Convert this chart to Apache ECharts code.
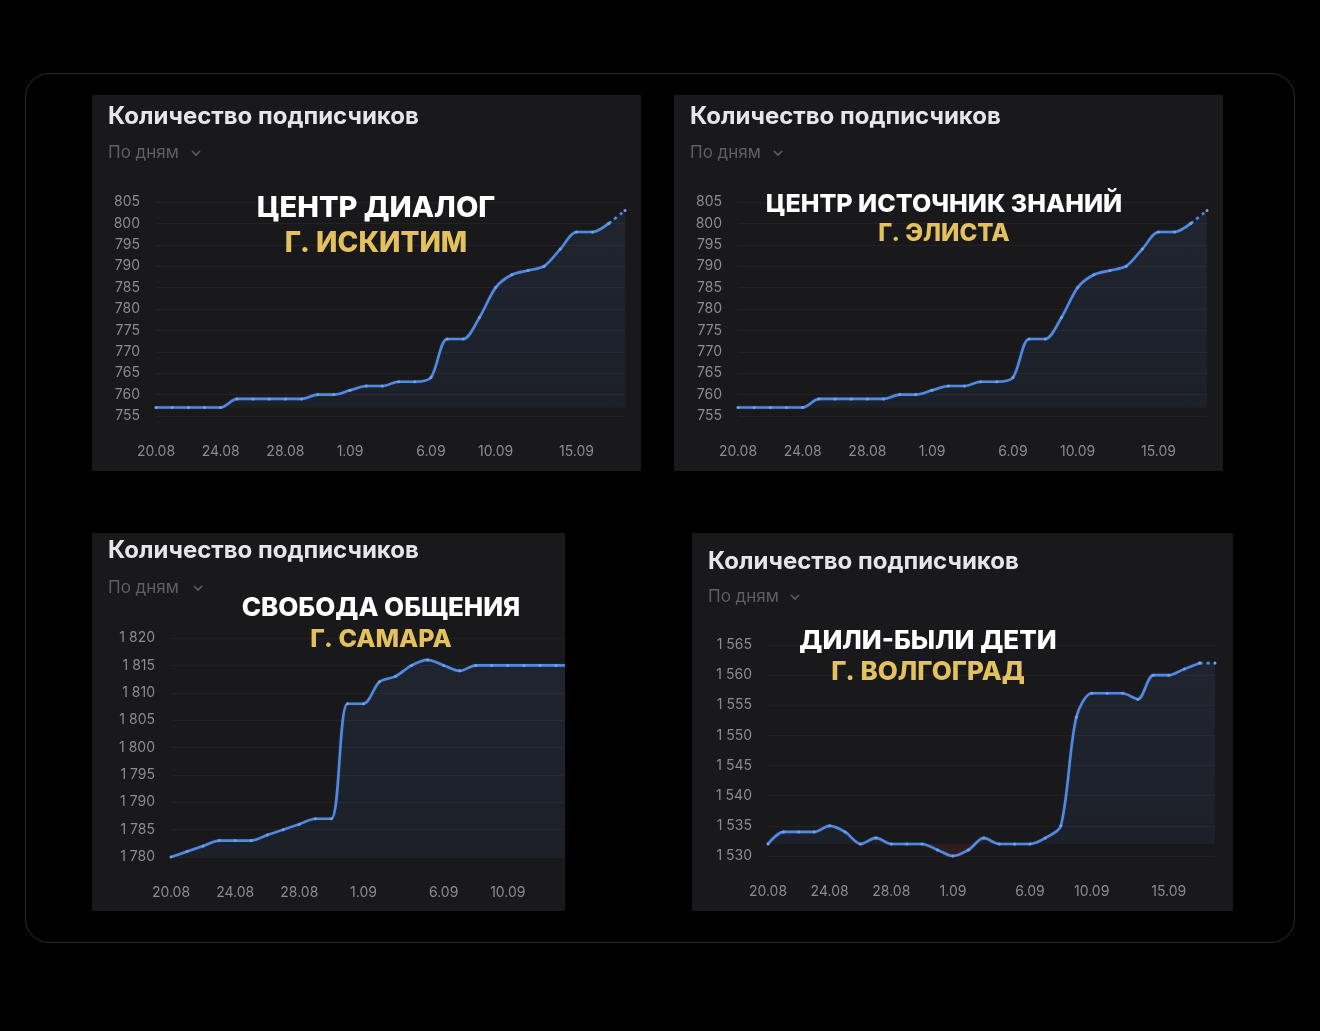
<!DOCTYPE html>
<html><head><meta charset="utf-8">
<script src="https://cdn.jsdelivr.net/npm/echarts@6/dist/echarts.min.js"></script>
<style>
html,body{margin:0;padding:0;background:#000;width:1320px;height:1031px;overflow:hidden}
#frame{position:absolute;left:25px;top:73px;width:1268px;height:868px;border:1px solid #2b2b2d;border-radius:24px}
.panel{position:absolute;background:#19191b;overflow:hidden}
.chart{position:absolute;left:0;top:0}
</style></head><body>
<div id="frame"></div>
<div class="panel" style="left:92px;top:95px;width:549px;height:376px"><div id="c1" class="chart" style="width:549px;height:376px"></div></div>
<div class="panel" style="left:674px;top:95px;width:549px;height:376px"><div id="c2" class="chart" style="width:549px;height:376px"></div></div>
<div class="panel" style="left:92px;top:533px;width:473px;height:378px"><div id="c3" class="chart" style="width:560px;height:378px"></div></div>
<div class="panel" style="left:692px;top:533px;width:541px;height:378px"><div id="c4" class="chart" style="width:541px;height:378px"></div></div>
<script>
// ---- data ----
const dates = ['20.08','21.08','22.08','23.08','24.08','25.08','26.08','27.08','28.08','29.08','30.08','31.08',
  '1.09','2.09','3.09','4.09','5.09','6.09','7.09','8.09','9.09','10.09','11.09','12.09','13.09','14.09','15.09','16.09','17.09','18.09'];
const xTickLabels = ['20.08','24.08','28.08','1.09','6.09','10.09','15.09'];
const panelTitle = 'Количество подписчиков';
const periodLabel = 'По дням';

const iskitimValues = [757,757,757,757,757,759,759,759,759,759,760,760,761,762,762,763,763,764,773,773,778,785,788,789,790,794,798,798,800,803];
const elistaValues  = [757,757,757,757,757,759,759,759,759,759,760,760,761,762,762,763,763,764,773,773,778,785,788,789,790,794,798,798,800,803];
const samaraValues  = [1780,1781,1782,1783,1783,1783,1784,1785,1786,1787,1787,1808,1808,1812,1813,1815,1816,1815,1814,1815,1815,1815,1815,1815,1815,1815];
const volgogradValues = [1532,1534,1534,1534,1535,1534,1532,1533,1532,1532,1532,1531,1530,1531,1533,1532,1532,1532,1533,1535,1553,1557,1557,1557,1556,1560,1560,1561,1562,1562];

const FONT = "Inter, 'Noto Sans', sans-serif";

function fmtNum(v){ return String(v).replace(/\B(?=(\d{3})+(?!\d))/g,' '); }

function build(id, cfg){
  const el = document.getElementById(id);
  const chart = echarts.init(el, null, {renderer:'canvas'});
  const vals = cfg.values;
  const n = vals.length;
  const cats = dates.slice(0, n);
  const base = vals[0];
  const solid = cfg.dashedLast ? vals.map((v,i)=> i<=n-2 ? v : '-') : vals.slice();
  const dashed = cfg.dashedLast ? vals.map((v,i)=> i>=n-2 ? v : '-') : null;
  const lineColor = '#5289da';
  const mkSeries = (data, dash) => ({
    type:'line', data:data, smooth:0.3, connectNulls:false,
    symbol:'circle', symbolSize:3, showSymbol:true,
    itemStyle:{color:'#74a2e6'},
    lineStyle:{color:lineColor, width:2.6, type: dash ? [3,4] : 'solid',
      shadowColor:'rgba(30,70,150,0.6)', shadowBlur:2},
    areaStyle:{origin:base, color:'rgba(70,110,180,0.15)'},
    z: 3
  });
  const series = [mkSeries(solid,false)];
  if (dashed) series.push(mkSeries(dashed,true));
  const chevX = cfg.chev[0], chevY = cfg.periodY;
  const option = {
    animation:false,
    backgroundColor:'transparent',
    grid:{left:cfg.grid[0], top:cfg.grid[1], right:cfg.grid[2], bottom:cfg.grid[3]},
    xAxis:{type:'category', data:cats, boundaryGap:false,
      axisLine:{show:false}, axisTick:{show:false}, splitLine:{show:false},
      axisLabel:{interval:(i,v)=> xTickLabels.indexOf(v) >= 0, color:'#8b8b90', fontSize:14, margin:29, fontFamily:FONT}},
    yAxis:{type:'value', min:cfg.min, max:cfg.max, interval:5,
      axisLine:{show:false}, axisTick:{show:false},
      axisLabel:{color:'#8b8b90', fontSize:14, margin:16, fontFamily:FONT, formatter:fmtNum},
      splitLine:{lineStyle:{color:'rgba(255,255,255,0.045)', width:1}}},
    series:series,
    graphic:[
      {type:'text', x:16, y:cfg.titleY, z:10, style:{text:panelTitle, fill:'#e6e6e8', font:'700 24px '+FONT, textAlign:'left', textVerticalAlign:'middle'}},
      {type:'text', x:16, y:cfg.periodY, z:10, style:{text:periodLabel, fill:'#5e5e63', font:'400 17px '+FONT, textAlign:'left', textVerticalAlign:'middle'}},
      {type:'polyline', z:10, shape:{points:[[chevX-4,chevY-2],[chevX,chevY+2],[chevX+4,chevY-2]]}, style:{stroke:'#5e5e63', lineWidth:1.6, fill:null}},
      {type:'text', x:cfg.overlayX, y:cfg.overlayY[0], z:20, style:{text:cfg.name, fill:'#ffffff', font:'800 '+cfg.overlaySize[0]+'px '+FONT, textAlign:'center', textVerticalAlign:'middle'}},
      {type:'text', x:cfg.overlayX, y:cfg.overlayY[1], z:20, style:{text:cfg.city, fill:'#e3c15f', font:'800 '+cfg.overlaySize[1]+'px '+FONT, textAlign:'center', textVerticalAlign:'middle'}}
    ]
  };
  chart.setOption(option);
  // two-tone area: blue above the starting value, red below it
  const yBase = chart.convertToPixel({yAxisIndex:0}, base);
  const H = chart.getHeight();
  const off = Math.min(1, Math.max(0, yBase / H));
  const grad = new echarts.graphic.LinearGradient(0, 0, 0, H, [
    {offset:0, color:'rgba(80,125,200,0.20)'},
    {offset:off, color:'rgba(70,110,180,0.13)'},
    {offset:off, color:'rgba(200,55,75,0.18)'},
    {offset:1, color:'rgba(200,55,75,0.18)'}
  ], true);
  chart.setOption({series: series.map(()=>({areaStyle:{origin:base, color:grad}}))});
  return chart;
}

build('c1', {values:iskitimValues, dashedLast:true, min:755, max:805, grid:[64,107,16,55],
  titleY:22, periodY:58, chev:[104], name:'ЦЕНТР ДИАЛОГ', city:'Г. ИСКИТИМ', overlayX:284, overlayY:[113,149], overlaySize:[29,28]});
build('c2', {values:elistaValues, dashedLast:true, min:755, max:805, grid:[64,107,16,55],
  titleY:22, periodY:58, chev:[104], name:'ЦЕНТР ИСТОЧНИК ЗНАНИЙ', city:'Г. ЭЛИСТА', overlayX:270, overlayY:[109,139], overlaySize:[25,24]});
build('c3', {values:samaraValues, dashedLast:false, min:1780, max:1820, grid:[79,105,80,54],
  titleY:18, periodY:55, chev:[106], name:'СВОБОДА ОБЩЕНИЯ', city:'Г. САМАРА', overlayX:289, overlayY:[75,106], overlaySize:[26,25]});
build('c4', {values:volgogradValues, dashedLast:true, min:1530, max:1565, grid:[76,112,18,55],
  titleY:29, periodY:64, chev:[103], name:'ДИЛИ-БЫЛИ ДЕТИ', city:'Г. ВОЛГОГРАД', overlayX:236, overlayY:[108,139], overlaySize:[26,26]});
</script>
</body></html>
